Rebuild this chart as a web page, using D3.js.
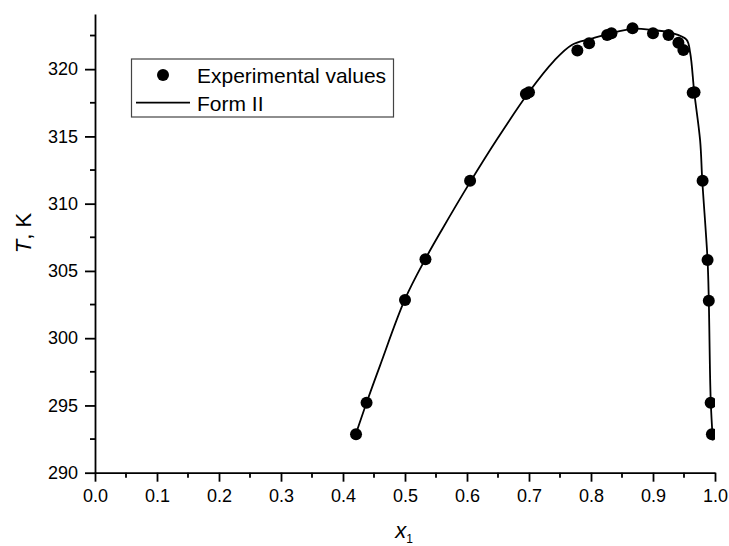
<!DOCTYPE html>
<html>
<head>
<meta charset="utf-8">
<script src="https://cdn.jsdelivr.net/npm/d3@7"></script>
<style>
  body { margin: 0; background: #fff; }
  svg { display: block; font-family: "Liberation Sans", Arial, sans-serif; }
</style>
</head>
<body>
<script>
// experimental points (x1, T in K)
const expX = [0.421, 0.438, 0.500, 0.533, 0.605, 0.695, 0.700, 0.778, 0.797, 0.826, 0.833,
  0.867, 0.900, 0.925, 0.941, 0.949, 0.964, 0.967, 0.980, 0.988, 0.990, 0.993, 0.995];
const expT = [292.86, 295.2, 302.84, 305.87, 311.71, 318.15, 318.28, 321.38, 321.93, 322.54, 322.67,
  323.04, 322.67, 322.54, 321.97, 321.43, 318.25, 318.28, 311.71, 305.81, 302.79, 295.2, 292.86];

// Form II model curve
const fitX = [0.418, 0.438, 0.460, 0.500, 0.533, 0.560, 0.605, 0.650, 0.700, 0.740, 0.769,
  0.800, 0.830, 0.867, 0.900, 0.930, 0.954, 0.960, 0.9666, 0.976, 0.9795, 0.988, 0.990, 0.993, 0.9965];
const fitT = [292.5, 295.2, 298.0, 302.9, 305.9, 308.1, 311.6, 314.9, 318.3, 320.6, 321.8,
  322.25, 322.65, 323.0, 322.9, 322.7, 322.2, 321.2, 318.25, 314.7, 311.7, 305.8, 302.8, 295.5, 292.4];

const xTicks = [0, 0.1, 0.2, 0.3, 0.4, 0.5, 0.6, 0.7, 0.8, 0.9, 1.0];
const yTicks = [290, 295, 300, 305, 310, 315, 320];
const legendLabels = ["Experimental values", "Form II"];

const width = 729, height = 546;
const x = d3.scaleLinear().domain([0, 1]).range([95, 715]);
const y = d3.scaleLinear().domain([290, 324.1]).range([472.7, 14]);

const svg = d3.select("body").append("svg")
    .attr("width", width)
    .attr("height", height);

svg.append("defs").append("clipPath").attr("id", "plot")
  .append("rect")
    .attr("x", x(0)).attr("y", y(324.1))
    .attr("width", x(1) - x(0)).attr("height", y(290) - y(324.1));

// minor ticks
const xMinor = d3.range(0.05, 1, 0.1);
const yMinor = d3.range(292.5, 324, 5);

svg.append("g")
  .selectAll("line")
  .data(xMinor)
  .join("line")
    .attr("x1", d => x(d)).attr("x2", d => x(d))
    .attr("y1", y(290)).attr("y2", y(290) + 5)
    .attr("stroke", "#000").attr("stroke-width", 1.8);

svg.append("g")
  .selectAll("line")
  .data(yMinor)
  .join("line")
    .attr("y1", d => y(d)).attr("y2", d => y(d))
    .attr("x1", x(0)).attr("x2", x(0) - 5)
    .attr("stroke", "#000").attr("stroke-width", 1.8);

// axes
const gx = svg.append("g")
    .attr("transform", `translate(0,${y(290)})`)
    .call(d3.axisBottom(x).tickValues(xTicks).tickFormat(d3.format(".1f")).tickSize(9).tickPadding(8).tickSizeOuter(0));

const gy = svg.append("g")
    .attr("transform", `translate(${x(0)},0)`)
    .call(d3.axisLeft(y).tickValues(yTicks).tickFormat(d3.format("d")).tickSize(10).tickPadding(7).tickSizeOuter(0));

[gx, gy].forEach(g => {
  g.select(".domain").attr("stroke-width", 1.8);
  g.selectAll(".tick line").attr("stroke-width", 1.8);
  g.selectAll(".tick text").attr("font-size", 18).attr("fill", "#000")
    .attr("font-family", "'Liberation Sans', Arial, sans-serif");
});

// axis titles
const xt = svg.append("text")
    .attr("x", 404).attr("y", 538)
    .attr("text-anchor", "middle")
    .attr("font-size", 22);
xt.append("tspan").attr("font-style", "italic").text("x");
xt.append("tspan").attr("font-size", 12).attr("dy", 5).text("1");

const yt = svg.append("text")
    .attr("transform", "translate(31,233) rotate(-90)")
    .attr("text-anchor", "middle")
    .attr("font-size", 22);
yt.append("tspan").attr("font-style", "italic").text("T");
yt.append("tspan").text(", K");

// plot
const plot = svg.append("g").attr("clip-path", "url(#plot)");

const line = d3.line()
    .x(i => x(fitX[i]))
    .y(i => y(fitT[i]))
    .curve(d3.curveCatmullRom.alpha(0.5));

plot.append("path")
    .attr("d", line(d3.range(fitX.length)))
    .attr("fill", "none")
    .attr("stroke", "#000")
    .attr("stroke-width", 1.8);

plot.append("g")
  .selectAll("circle")
  .data(d3.range(expX.length))
  .join("circle")
    .attr("cx", i => x(expX[i]))
    .attr("cy", i => y(expT[i]))
    .attr("r", 6)
    .attr("fill", "#000");

// legend
const leg = svg.append("g");
leg.append("rect")
    .attr("x", 131.5).attr("y", 59)
    .attr("width", 262).attr("height", 58)
    .attr("fill", "#fff")
    .attr("stroke", "#444")
    .attr("stroke-width", 1.2);
leg.append("circle").attr("cx", 163).attr("cy", 75).attr("r", 6).attr("fill", "#000");
leg.append("line")
    .attr("x1", 136).attr("x2", 190)
    .attr("y1", 102.7).attr("y2", 102.7)
    .attr("stroke", "#000").attr("stroke-width", 1.8);
leg.selectAll("text")
  .data(legendLabels)
  .join("text")
    .attr("x", 197)
    .attr("y", (d, i) => 83 + i * 28)
    .attr("font-size", 21)
    .text(d => d);
</script>
</body>
</html>
